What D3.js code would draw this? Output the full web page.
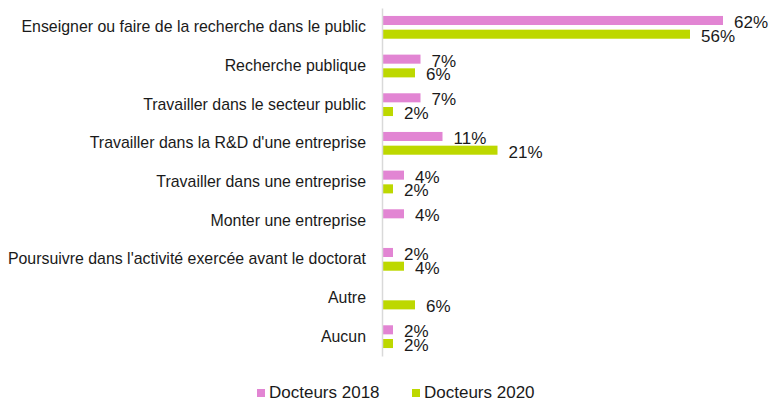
<!DOCTYPE html>
<html>
<head>
<meta charset="utf-8">
<script src="https://cdn.jsdelivr.net/npm/d3@7"></script>
<style>
  body { margin: 0; background: #fff; }
  text { font-family: "Liberation Sans", Arial, sans-serif; fill: #1a1a1a; }
</style>
</head>
<body>
<div id="chart"></div>
<script>
// Data
var categories = [
  "Enseigner ou faire de la recherche dans le public",
  "Recherche publique",
  "Travailler dans le secteur public",
  "Travailler dans la R&D d'une entreprise",
  "Travailler dans une entreprise",
  "Monter une entreprise",
  "Poursuivre dans l'activité exercée avant le doctorat ",
  "Autre",
  "Aucun"
];
var series = ["Docteurs 2018", "Docteurs 2020"];
var values2018 = [62, 7, 7, 11, 4, 4, 2, null, 2];
var values2020 = [56, 6, 2, 21, 2, null, 4, 6, 2];
var colors = ["#e285d3", "#bdd800"];

var svgWidth = 771;
var svgHeight = 401;
var axisX = 382;

var svg = d3.select("#chart")
  .append("svg")
  .attr("width", svgWidth)
  .attr("height", svgHeight);

// Scales
var xScale = d3.scaleLinear()
  .domain([0, 62])
  .range([0, 341]);

var yScale = d3.scaleBand()
  .domain(categories)
  .range([8, 356]);

var ySub = d3.scaleBand()
  .domain(series)
  .range([0, yScale.bandwidth()])
  .paddingInner(0.34)
  .paddingOuter(0.58);

var colorScale = d3.scaleOrdinal().domain(series).range(colors);

// Table built from the arrays
var rows = [];
categories.forEach(function(cat, i) {
  rows.push({ cat: cat, s: series[0], v: values2018[i] });
  rows.push({ cat: cat, s: series[1], v: values2020[i] });
});
rows = rows.filter(d => d.v !== null);

var chartGroup = svg.append("g")
  .attr("transform", `translate(${axisX}, 0)`);

// Bars
chartGroup.selectAll("rect.bar")
  .data(rows)
  .enter()
  .append("rect")
  .attr("class", "bar")
  .attr("x", 0)
  .attr("y", d => yScale(d.cat) + ySub(d.s))
  .attr("width", d => xScale(d.v))
  .attr("height", ySub.bandwidth())
  .attr("fill", d => colorScale(d.s));

// Value labels
chartGroup.selectAll("text.val")
  .data(rows)
  .enter()
  .append("text")
  .attr("class", "val")
  .attr("x", d => xScale(d.v) + 11)
  .attr("y", d => yScale(d.cat) + ySub(d.s) + ySub.bandwidth() / 2 + 1.5)
  .attr("dy", "0.35em")
  .attr("font-size", 17)
  .text(d => d.v + "%");

// Category axis
var leftAxis = d3.axisLeft(yScale).tickSize(0).tickPadding(16);
var axisG = chartGroup.append("g").call(leftAxis);
axisG.select(".domain")
  .attr("stroke", "#d9d9d9")
  .attr("stroke-width", 1.5);
axisG.selectAll("text")
  .attr("font-size", 15.9)
  .attr("font-family", "Liberation Sans, Arial, sans-serif")
  .attr("fill", "#1a1a1a");

// Legend
var legendX = [257, 412];
var legend = svg.append("g");
series.forEach(function(s, i) {
  legend.append("rect")
    .attr("x", legendX[i])
    .attr("y", 389)
    .attr("width", 8)
    .attr("height", 8)
    .attr("fill", colorScale(s));
  legend.append("text")
    .attr("x", legendX[i] + 12)
    .attr("y", 392)
    .attr("dy", "0.35em")
    .attr("font-size", 17)
    .text(s);
});
</script>
</body>
</html>
